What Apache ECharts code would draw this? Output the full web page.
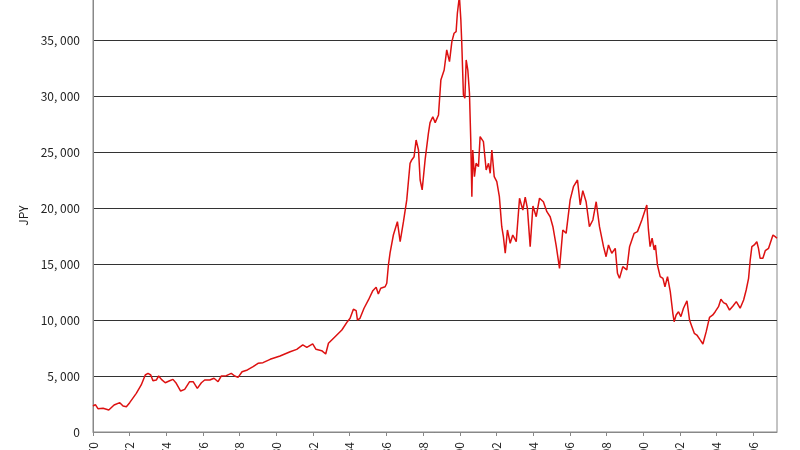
<!DOCTYPE html>
<html>
<head>
<meta charset="utf-8">
<title>Nikkei 225</title>
<script src="https://cdn.jsdelivr.net/npm/echarts@6/dist/echarts.min.js"></script>
<style>
	html, body { margin: 0; padding: 0; background: #fff; }
	#chart { width: 800px; height: 450px; }
</style>
</head>
<body>
<div id="chart"></div>
<script>
// 时间（小数年）
const years = [
	1970.00, 1970.13, 1970.27, 1970.55, 1970.86, 1971.15, 1971.46, 1971.64, 1971.82,
	1972.00, 1972.36, 1972.63, 1972.85, 1973.00, 1973.15, 1973.27, 1973.45, 1973.58, 1973.73, 1973.94,
	1974.18, 1974.36, 1974.54, 1974.78, 1975.00, 1975.27, 1975.46, 1975.69, 1975.91,
	1976.09, 1976.37, 1976.60, 1976.82, 1977.00, 1977.27, 1977.54, 1977.73, 1977.91,
	1978.13, 1978.42, 1978.73, 1979.00, 1979.27, 1979.66, 1980.20, 1980.75,
	1981.11, 1981.44, 1981.66, 1981.98, 1982.16, 1982.47, 1982.69, 1982.84,
	1983.20, 1983.57, 1983.87, 1984.02, 1984.20, 1984.35, 1984.42, 1984.56, 1984.78,
	1985.02, 1985.26, 1985.44, 1985.56, 1985.69, 1985.93, 1986.02, 1986.11, 1986.20,
	1986.38, 1986.60, 1986.75, 1986.93, 1987.11, 1987.29, 1987.38, 1987.51, 1987.62, 1987.75, 1987.84, 1987.95,
	1988.11, 1988.29, 1988.38, 1988.53, 1988.66, 1988.84, 1988.97,
	1989.15, 1989.29, 1989.44, 1989.57, 1989.69, 1989.80, 1989.87, 1989.98,
	1990.06, 1990.11, 1990.20, 1990.28, 1990.35, 1990.44, 1990.53, 1990.60, 1990.66, 1990.71, 1990.80, 1990.89,
	1991.02, 1991.11, 1991.29, 1991.44, 1991.57, 1991.66, 1991.75, 1991.88,
	1992.02, 1992.16, 1992.29, 1992.38, 1992.48, 1992.60, 1992.75, 1992.89,
	1993.08, 1993.26, 1993.44, 1993.57, 1993.69, 1993.84, 1993.99,
	1994.17, 1994.35, 1994.56, 1994.75, 1994.93,
	1995.08, 1995.26, 1995.44, 1995.62, 1995.80,
	1996.02, 1996.20, 1996.42, 1996.57, 1996.71, 1996.89,
	1997.07, 1997.26, 1997.44, 1997.62, 1997.84, 1997.98,
	1998.11, 1998.29, 1998.48, 1998.60, 1998.71, 1998.89,
	1999.11, 1999.26, 1999.51, 1999.69, 1999.93,
	2000.11, 2000.20, 2000.29, 2000.38, 2000.49, 2000.60, 2000.67, 2000.78, 2000.93,
	2001.08, 2001.19, 2001.33, 2001.48, 2001.62, 2001.69, 2001.80, 2001.93,
	2002.06, 2002.20, 2002.39, 2002.53, 2002.66, 2002.79, 2002.93,
	2003.11, 2003.26, 2003.44, 2003.62, 2003.80, 2003.93,
	2004.11, 2004.24, 2004.38, 2004.53, 2004.71, 2004.90,
	2005.08, 2005.29, 2005.48, 2005.62, 2005.75, 2005.84, 2005.93,
	2006.06, 2006.20, 2006.29, 2006.38, 2006.53, 2006.66, 2006.84, 2006.93,
	2007.08, 2007.20, 2007.30
];

// 指数值（日元）
const prices = [
	2320, 2440, 2080, 2120, 1960, 2410, 2620, 2320, 2260,
	2620, 3450, 4200, 5090, 5240, 5090, 4580, 4640, 5000, 4700, 4400,
	4580, 4700, 4350, 3660, 3810, 4490, 4490, 3900, 4400,
	4640, 4640, 4800, 4490, 5000, 5030, 5240, 5000, 4880,
	5380, 5540, 5830, 6130, 6190, 6490, 6790, 7170,
	7380, 7770, 7560, 7860, 7380, 7260, 6960, 7920,
	8510, 9110, 9850, 10150, 10960, 10830, 10000, 10150, 11050,
	11790, 12620, 12920, 12320, 12830, 12970, 13280, 14910, 16000,
	17590, 18780, 16990, 18780, 20720, 23990, 24290, 24580, 26070, 25180, 22500, 21610,
	24290, 26670, 27620, 28150, 27620, 28310, 31430,
	32320, 34110, 33070, 34850, 35600, 35740, 37390, 38900,
	36790, 34710, 30090, 29800, 33220, 32320, 30240, 26070, 21010, 25180, 22800, 23990,
	23690, 26370, 25920, 23390, 23990, 23100, 25180, 22800,
	22350, 21010, 18330, 17440, 15960, 18040, 16850, 17590,
	16990, 20870, 19820, 20960, 19970, 16550, 20180,
	19220, 20870, 20560, 19670, 19220,
	18330, 16610, 14610, 18040, 17740,
	20720, 21900, 22500, 20270, 21550, 20560,
	18330, 18930, 20560, 18330, 16550, 15650,
	16700, 15960, 16400, 14170, 13720, 14760,
	14470, 16550, 17740, 17890, 18930,
	19820, 20270, 18040, 16550, 17300, 16250, 16700, 14910, 13870,
	13720, 12970, 13870, 12530, 10600, 9850, 10450, 10740,
	10300, 11050, 11720, 10000, 9400, 8810, 8660,
	8220, 7860, 8960, 10240, 10450, 10740,
	11190, 11850, 11550, 11430, 10890, 11250,
	11640, 11050, 11790, 12680, 13720, 15360, 16550,
	16700, 16990, 16400, 15510, 15510, 16190, 16400, 16850,
	17590, 17440, 17300
];

// 坐标轴范围
const xMin = 1970;
const xMax = 2007.3;
const xStep = 2;
const yMax = 38660;
const yStep = 5000;

const chart = echarts.init(document.getElementById("chart"), null, { renderer: "canvas" });

// 千位分隔（带空格）
function fmtNum(v) {
	return String(v).replace(/\B(?=(\d{3})+(?!\d))/g, ", ");
}

const option = {
	backgroundColor: "#fff",
	animation: false,
	grid: {
		left: 93,
		right: 23,
		top: -1,
		bottom: 18,
		outerBoundsMode: "none", // 不把标签挤进画布
		containLabel: false,
		show: true,
		borderColor: "#888",
		borderWidth: 1,
	},
	xAxis: {
		type: "value",
		min: xMin,
		max: xMax,
		interval: xStep,
		axisLine: { lineStyle: { color: "#888", width: 1 } },
		axisTick: { show: true, length: 4, lineStyle: { color: "#888" } },
		splitLine: { show: false },
		axisLabel: {
			rotate: 90,
			margin: 10,
			color: "#222",
			fontSize: 12,
			fontFamily: "Noto Sans CJK JP",
			showMaxLabel: false,
			formatter: (v) => String(Math.round(v)),
		},
	},
	yAxis: {
		type: "value",
		min: 0,
		max: yMax,
		interval: yStep,
		name: "JPY",
		nameLocation: "middle",
		nameGap: 64,
		nameRotate: 90,
		nameTextStyle: { color: "#222", fontSize: 12, fontFamily: "Noto Sans CJK JP" },
		axisLine: { show: true, lineStyle: { color: "#888", width: 1 } },
		axisTick: { show: false },
		splitLine: { show: true, lineStyle: { color: "#333", width: 1 } },
		axisLabel: {
			color: "#222",
			fontSize: 12,
			margin: 13,
			fontFamily: "Noto Sans CJK JP",
			showMaxLabel: false,
			formatter: (v) => fmtNum(v),
		},
	},
	series: [
		{
			type: "line",
			data: years.map((y, i) => [y, prices[i]]),
			showSymbol: false,
			clip: true,
			lineStyle: { color: "#dd1111", width: 1.5 },
		},
	],
};

chart.setOption(option);
</script>
</body>
</html>
